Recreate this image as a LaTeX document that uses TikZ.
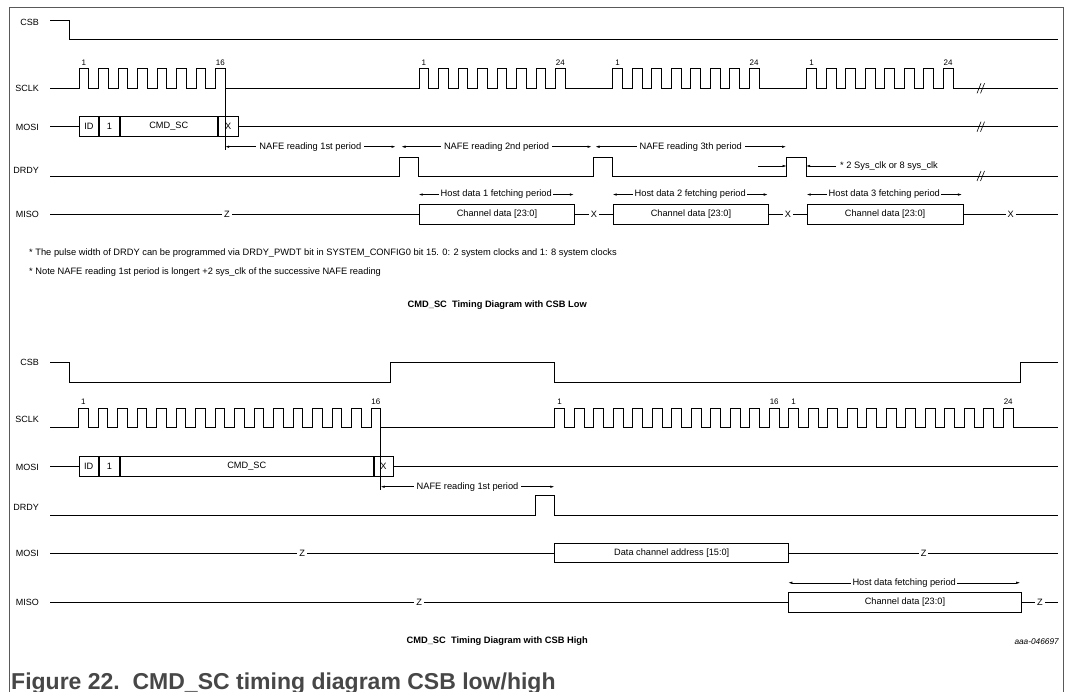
\documentclass[tikz,border=0pt]{standalone}
\usepackage{fontspec}
\setmainfont{Liberation Sans}
\usetikzlibrary{positioning,arrows.meta,calc}

\newcommand{\clkp}{19.5}
\newcommand{\clkh}{9.75}

\begin{document}
\begin{tikzpicture}[x=1pt, y=-1pt,
  >={Latex[length=4pt,width=2.4pt]},
  sig/.style={line width=0.9pt, line join=miter},
  sigl/.style={anchor=east, inner sep=0pt, font=\fontsize{9}{11}\selectfont},
  cell/.style={draw, line width=0.9pt, anchor=west, minimum height=19.5pt, inner sep=0pt, font=\fontsize{9.2}{11}\selectfont},
  num/.style={anchor=south, inner sep=1pt, font=\fontsize{8}{9}\selectfont},
  zmark/.style={fill=white, inner sep=2pt, font=\fontsize{9.2}{11}\selectfont},
  dim/.style={<->, line width=0.5pt},
  dlab/.style={fill=white, inner sep=3pt, font=\fontsize{9.3}{11}\selectfont},
  note/.style={anchor=west, inner sep=0pt, font=\fontsize{9.3}{11}\selectfont},
  ttl/.style={anchor=east, inner sep=0pt, font=\fontsize{9.3}{11}\selectfont\bfseries},
  brk/.style={line width=0.6pt},
]
\useasboundingbox (0,0) rectangle (1066,692);

% frame
\draw[black!65, line width=0.8pt] (9,692) -- (9,7) -- (1063,7) -- (1063,692);

%%%%%%%%%%%%%%%% CSB low %%%%%%%%%%%%%%%%
% signal names
\node[sigl] (lcsb) at (39,22) {CSB};
\node[sigl] (lsclk) at (39,88) {SCLK};
\node[sigl] (lmosi) at (39,127) {MOSI};
\node[sigl] (ldrdy) at (39,170) {DRDY};
\node[sigl] (lmiso) at (39,214) {MISO};

% CSB
\draw[sig] (50,20.3) -- (69,20.3) -- (69,39.7) -- (1058,39.7);

% SCLK bursts
\draw[sig] (50,88.3) \foreach \s in {79,419,612.7,806.7} {
    \foreach \i in {0,...,7} { -- ({\s+\i*\clkp},88.3) -- ++(0,-19.4) -- ++(\clkh,0) -- ++(0,19.4) }
  } -- (1058,88.3);
\foreach \s/\n [count=\k] in {79/16,419/24,612.7/24,806.7/24} {
  \node[num] (ca\k) at ({\s+4.875},66.5) {1};
  \node[num] (cb\k) at ({\s+141.4},66.5) {\n};
}

% MOSI command
\coordinate (mosiS) at (50,126.7);
\coordinate (mosiE) at (1058,126.7);
\node[cell, minimum width=19pt] (mid) at (79,126.7) {ID};
\node[cell, minimum width=20pt, right=0pt of mid] (mone) {1};
\node[cell, minimum width=97pt, right=0pt of mone] (mcmd) {CMD\_SC};
\node[cell, minimum width=20pt, right=0pt of mcmd] (mx) {X};
\draw[sig] (mosiS) -- (mid.west);
\draw[sig] (mx.east) -- (mosiE);
\coordinate (t1) at (225.2,88.3);
\draw[line width=0.6pt] (t1) -- (225.2,150);

% NAFE reading periods
\coordinate (na1) at (225.2,146.7);
\coordinate (na2) at (395.5,146.7);
\coordinate (nb1) at (401.5,146.7);
\coordinate (nb2) at (591.5,146.7);
\coordinate (nc1) at (595.5,146.7);
\coordinate (nc2) at (786,146.7);
\draw[dim] (na1) -- (na2) node[midway, dlab] (nafe1) {NAFE reading 1st period};
\draw[dim] (nb1) -- (nb2) node[midway, dlab] (nafe2) {NAFE reading 2nd period};
\draw[dim] (nc1) -- (nc2) node[midway, dlab] (nafe3) {NAFE reading 3th period};

% DRDY
\draw[sig] (50,176) \foreach \x in {399.3,593.3,786.7} { -- (\x,176) -- ++(0,-19) -- ++(19.5,0) -- ++(0,19) } -- (1058,176);
\coordinate (dw1) at (758,166);
\coordinate (dw2) at (786.7,166);
\coordinate (dw3) at (836,166);
\coordinate (dw4) at (806.2,166);
\draw[->, line width=0.5pt] (dw1) -- (dw2);
\draw[->, line width=0.5pt] (dw3) -- (dw4);
\node[note] (sysclk) at (840,166) {* 2 Sys\_clk or 8 sys\_clk};

% breaks
\foreach \y in {88.3,126.7,176} {
  \draw[brk] (977,{\y+5}) -- (981,{\y-5});
  \draw[brk] (980.5,{\y+5}) -- (984.5,{\y-5});
}

% MISO
\coordinate (misoS) at (50,214);
\coordinate (misoE) at (1058,214);
\node[cell, minimum width=155.7pt, minimum height=20pt] (cd1) at (418.7,214) {Channel data [23:0]};
\node[cell, minimum width=155.6pt, minimum height=20pt] (cd2) at (612.7,214) {Channel data [23:0]};
\node[cell, minimum width=155.8pt, minimum height=20pt] (cd3) at (806.7,214) {Channel data [23:0]};
\draw[sig] (misoS) -- node[zmark, pos=0.48] (mz1) {Z} (cd1.west);
\draw[sig] (cd1.east) -- node[zmark] (mx1) {X} (cd2.west);
\draw[sig] (cd2.east) -- node[zmark] (mx2) {X} (cd3.west);
\draw[sig] (cd3.east) -- node[zmark] (mx3) {X} (misoE);
\foreach \c [count=\k] in {cd1,cd2,cd3} {
  \draw[dim] ([yshift=9pt]\c.north west) -- ([yshift=9pt,xshift=-1.5pt]\c.north east)
    node[midway, dlab, inner sep=1.5pt] (host\k) {Host data \k\ fetching period};
}

% notes
\node[note] (fn1) at (29,253) {* The pulse width of DRDY can be programmed via DRDY\_PWDT bit in SYSTEM\_CONFIG0 bit 15. 0: 2 system clocks and 1: 8 system clocks};
\node[note] (fn2) at (29,272) {* Note NAFE reading 1st period is longert +2 sys\_clk of the successive NAFE reading};
\node[ttl] (tlow) at (587,305) {CMD\_SC\ \ Timing Diagram with CSB Low};

%%%%%%%%%%%%%%%% CSB high %%%%%%%%%%%%%%%%
\node[sigl] (bcsb) at (39,362) {CSB};
\node[sigl] (bsclk) at (39,419) {SCLK};
\node[sigl] (bmosi) at (39,467) {MOSI};
\node[sigl] (bdrdy) at (39,507) {DRDY};
\node[sigl] (bmosib) at (39,553) {MOSI};
\node[sigl] (bmiso) at (39,602) {MISO};

% CSB
\draw[sig] (50,362) -- (69,362) -- (69,382) -- (390,382) -- (390,362) -- (554.8,362)
  -- (554.8,382) -- (1020.3,382) -- (1020.3,362) -- (1058,362);

% SCLK
\draw[sig] (50,427.7)
  \foreach \i in {0,...,15} { -- ({78.5+\i*\clkp},427.7) -- ++(0,-19.4) -- ++(\clkh,0) -- ++(0,19.4) }
  \foreach \i in {0,...,23} { -- ({554.8+\i*\clkp},427.7) -- ++(0,-19.4) -- ++(\clkh,0) -- ++(0,19.4) }
  -- (1058,427.7);
\node[num] (bc1) at (83.4,406) {1};
\node[num] (bc2) at (375.9,406) {16};
\node[num] (bc3) at (559.7,406) {1};
\node[num] (bc4) at (774.2,406) {16};
\node[num] (bc5) at (793.7,406) {1};
\node[num] (bc6) at (1008.2,406) {24};

% MOSI command
\coordinate (bmosiS) at (50,466.7);
\coordinate (bmosiE) at (1058,466.7);
\node[cell, minimum width=19.6pt] (bid) at (78.5,466.7) {ID};
\node[cell, minimum width=20pt, right=0pt of bid] (bone) {1};
\node[cell, minimum width=252.8pt, right=0pt of bone] (bcmd) {CMD\_SC};
\node[cell, minimum width=19pt, right=0pt of bcmd] (bx) {X};
\draw[sig] (bmosiS) -- (bid.west);
\draw[sig] (bx.east) -- (bmosiE);
\coordinate (bt1) at (380.7,427.7);
\draw[line width=0.6pt] (bt1) -- (380.7,490);

% NAFE reading
\coordinate (bn1) at (380.7,486.7);
\coordinate (bn2) at (554.3,486.7);
\draw[dim] (bn1) -- (bn2) node[midway, dlab] (bnafe) {NAFE reading 1st period};

% DRDY
\draw[sig] (50,515) -- (535.7,515) -- (535.7,495.7) -- (554.3,495.7) -- (554.3,515) -- (1058,515);

% MOSI data
\coordinate (bdS) at (50,553);
\coordinate (bdE) at (1058,553);
\node[cell, minimum width=234pt, minimum height=19.6pt] (addr) at (554.3,553) {Data channel address [15:0]};
\draw[sig] (bdS) -- node[zmark, pos=0.5] (bz1) {Z} (addr.west);
\draw[sig] (addr.east) -- node[zmark, pos=0.50] (bz2) {Z} (bdE);

% MISO data
\coordinate (bmS) at (50,602.5);
\coordinate (bmE) at (1058,602.5);
\node[cell, minimum width=232.4pt, minimum height=19.6pt] (bcd) at (788.3,602.5) {Channel data [23:0]};
\draw[sig] (bmS) -- node[zmark, pos=0.5] (bz3) {Z} (bcd.west);
\draw[sig] (bcd.east) -- node[zmark] (bz4) {Z} (bmE);
\draw[dim] ([yshift=9.5pt]bcd.north west) -- ([yshift=9.5pt,xshift=-1.5pt]bcd.north east)
  node[midway, dlab, inner sep=1.5pt] (bhost) {Host data fetching period};

\node[ttl] (thigh) at (588,641) {CMD\_SC\ \ Timing Diagram with CSB High};
\node[anchor=east, inner sep=0pt, font=\fontsize{8.3}{10}\selectfont\itshape] (code) at (1059,642) {aaa-046697};

% caption
\node[anchor=base west, inner sep=0pt, text=black!72, font=\fontsize{23}{26}\selectfont\bfseries] (cap) at (11,689) {Figure 22.\ \ CMD\_SC timing diagram CSB low/high};
\end{tikzpicture}
\end{document}
